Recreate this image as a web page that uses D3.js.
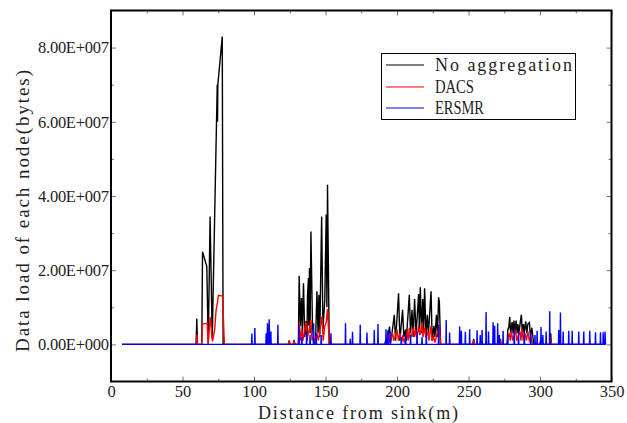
<!DOCTYPE html>
<html lang="en">
<head>
<meta charset="utf-8">
<script src="https://cdn.jsdelivr.net/npm/d3@7"></script>
<style>
  body { margin: 0; background: #fff; }
  svg { display: block; }
</style>
</head>
<body>
<script>
// distances in m, loads in units of 1E6 bytes
var noAggregation = [[7.7,0],[59.5,0],[60,7],[60.5,0],[63.5,0],[64,25],[67,21],[68,0],[69.3,34.5],[70.8,1.5],[74.3,70],[74.5,60],[74.7,70],[77.8,83],[78.4,0],
  [124,0],[124.6,1],[125.2,0],[127.5,0],[128,1.2],[128.6,0],
  [131,0],[131.6,18.5],[132.4,5],[133.2,12.5],[133.8,3],[134.6,16.5],[135.5,2],[136.3,6.2],[137,1],[137.4,12.9],[138.1,17.9],[138.3,5],[138.8,20.6],[139.2,3],[139.8,30.4],[140.9,4.8],[142,0],[143,0],[144,14.3],[144.8,3],[145.4,13.4],[146,2],[147.3,34.5],[148.2,4],[149.5,12],[150.5,35],[151,10],[151.4,43],[152.6,0],
  [191.5,0],[192,1],[192.6,0],[194.8,4.8],[195.5,0.5],[196.5,3],[198.1,8],[199,1],[201.1,13.8],[202,1],[203.9,9.3],[204.8,2],[206,4],[206.5,1],[208.6,13.4],[209.5,3],[210.5,9.3],[211.3,2],[212.3,12.2],[213.3,3],[214.2,8],[215.1,13.6],[215.6,4],[216.3,15.4],[217.2,3],[218,12.2],[218.6,3],[219.3,15.1],[220.3,2],[221.2,8],[222,3],[223.8,14.3],[224.6,1],[225.8,5],[226.5,2],[227.6,8],[228.3,2],[229.1,12.7],[229.6,11.5],[230.5,0],
  [253,0],[253.6,1.5],[254.2,0],[271.8,0],[272.3,1.5],[272.8,0],
  [277,0],[277.5,4],[278.2,4.5],[278.8,7.4],[279.5,3],[280.5,6],[281.2,3],[281.8,6.4],[282.5,3],[283.3,6.4],[284,3],[284.5,5.5],[285.3,3],[286.2,6],[287,8],[287.6,3],[288.4,5.5],[289,3],[290,6.2],[290.8,3],[291.5,5.5],[292.6,5.9],[293.3,2],[294.3,4.5],[295.6,0],
  [300,0],[300.5,1.5],[301.5,0],[307,0],[307.5,3],[308,0],[345.8,0]];

var dacs = [[7.7,0],[59.5,0],[60,2.6],[60.5,0],[63.5,0],[64,5.5],[67.2,5.7],[68,0],[69.3,7.4],[71,0.8],[72.5,4],[73.5,9.3],[74.4,11.1],[75.1,13.2],[78,13],[79.3,0],
  [124,0],[124.6,1],[125.2,0],[127.5,0],[128,1],[128.6,0],
  [131,0],[131.8,5.8],[132.5,1],[133.5,4],[134.2,1],[135,3],[136.3,6.2],[137,1],[138.5,4],[139.8,6.6],[140.6,1],[141.5,2],[142.5,0],[144,3],[145,1],[146.5,5],[147.5,7.5],[148.4,1],[149.5,5],[150.5,6],[151.4,9.5],[152.6,0],
  [192,0],[194.5,2],[195,0.5],[197,3],[197.6,1],[199,2.5],[200,4],[201,1],[202,3],[203.3,1],[204,2],[205,0.5],[207,3.5],[207.8,1],[208.6,4.5],[209.3,1.5],[210.5,3],[211.5,4.5],[212.3,2],[213,4],[214,1.5],[215,5],[216,2.5],[216.8,4],[217.5,6],[218.2,2],[219.5,4.5],[220.3,2],[221.5,3.5],[222.3,1],[223.8,5],[224.5,1],[225.5,2],[226.5,0.5],[228.5,3.5],[229.6,5.2],[230.5,0],
  [253,0],[253.6,1],[254.2,0],[271.8,0],[272.3,1],[272.8,0],
  [277,0],[277.5,2],[278.5,3],[279.2,1],[280,3.5],[281,1],[282,2.5],[283,4],[283.7,1],[285,2.5],[286,3.5],[286.7,1],[287.5,4.2],[288.3,1],[289.5,3],[290.5,1],[291.5,3.5],[292.5,1],[293.5,2],[295,0],
  [300,0],[300.5,1],[301.5,0],[307,0],[307.5,2],[308,0],[345.8,0]];

var ersmr = [[7.7,0],
  [98.3,0],[98.5,2.9],[98.7,0],[100.4,0],[100.6,4.4],[100.8,0],
  [108.3,0],[108.5,3.0],[108.8,0],[109.2,0],[109.4,5.7],[109.8,0],[110.4,0],[110.6,6.8],[111,0],[111.6,0],[111.8,3.5],[112,0],
  [116.5,0],[116.7,5.3],[116.9,0],
  [131.4,0],[131.6,4.8],[131.8,0],[133.3,0],[133.5,2],[133.7,0],[136.6,0],[136.8,3.5],[137,0],[139,0],[139.2,2.5],[139.4,0],
  [141.5,0],[141.7,5.7],[141.9,0],[143.3,0],[143.5,3],[143.7,0],[146.8,0],[147,2.5],[147.2,0],
  [153.6,0],[153.8,3],[154,0],[163.8,0],[164,5.7],[164.2,0],[167.1,0],[167.3,1.5],[167.5,0],[168.7,0],[168.9,3.4],[169.1,0],
  [174.1,0],[174.3,5.3],[174.5,0],[178.8,0],[179,3.2],[179.2,0],[183.9,0],[184.1,3.9],[184.3,0],[186.5,0],[186.7,5.5],[186.9,0],
  [192.1,0],[192.3,4.1],[192.6,0],[193.4,0],[193.6,3.8],[193.9,0],[195.1,0],[195.3,3.4],[195.5,0],
  [202.8,0],[203,2],[203.2,0],[205.8,0],[206,3],[206.2,0],[209.3,0],[209.5,2.5],[209.7,0],[213.8,0],[214,3.5],[214.2,0],
  [217.3,0],[217.5,2],[217.7,0],[220.3,0],[220.5,3],[220.7,0],[228.9,0],[229.1,5.3],[229.3,0],
  [234.2,0],[234.4,6.6],[234.6,0],[236.6,0],[236.8,3.2],[237,0],
  [243.6,0],[243.8,4.8],[244.1,0],[244.8,0],[245,3.7],[245.2,0],[247.6,0],[247.8,3.4],[248,0],[250.6,0],[250.8,4.1],[251,0],
  [255.8,0],[256,3.8],[256.2,0],[258,0],[258.2,2.5],[258.4,0],[259.3,0],[259.5,3.9],[259.7,0],
  [262.1,0],[262.3,8.7],[262.5,0],[263.8,0],[264,3.5],[264.2,0],
  [267,0],[267.2,6],[267.5,0],[268.1,0],[268.3,5],[268.5,0],[270.2,0],[270.4,5.7],[270.6,0],[271.3,0],[271.5,2.5],[271.7,0],
  [274,0],[274.2,3.7],[274.4,0],[277.3,0],[277.5,2.5],[277.7,0],[281.8,0],[282,4],[282.2,0],[284.8,0],[285,3.5],[285.2,0],
  [288.8,0],[289,3.5],[289.2,0],[293.3,0],[293.5,3.3],[293.7,0],[296.3,0],[296.5,2.5],[296.7,0],[297.8,0],[298,3.7],[298.2,0],
  [300.5,0],[300.7,4.7],[300.9,0],[301.8,0],[302,2.5],[302.2,0],[304.1,0],[304.3,3.5],[304.5,0],[306.6,0],[306.8,8.9],[307,0],
  [312.9,0],[313.1,3.9],[313.3,0],[314.1,0],[314.3,8.6],[314.5,0],[316,0],[316.2,3.5],[316.4,0],
  [319.9,0],[320.1,3.7],[320.3,0],[322.3,0],[322.5,3.7],[322.7,0],[326.9,0],[327.1,3.5],[327.3,0],
  [330.4,0],[330.6,3.5],[330.8,0],[334.6,0],[334.8,3.7],[335,0],[338.6,0],[338.8,3.3],[339,0],
  [342.1,0],[342.3,3.3],[342.5,0],[344,0],[344.2,3.3],[344.4,0],[345.3,0],[345.5,3.5],[345.8,0]];

var seriesNames = ["No aggregation", "DACS", "ERSMR"];
var seriesColors = ["#000000", "#ff0000", "#0000ff"];
var xTicks = [0, 50, 100, 150, 200, 250, 300, 350];
var xMinorTicks = [25, 75, 125, 175, 225, 275, 325];
var yTicks = [0, 20, 40, 60, 80];
var yMinorTicks = [10, 30, 50, 70];

var w = 627, h = 423;
var plot = { left: 111, right: 611.5, top: 10.5, bottom: 381.5 };
var serifFont = "'Liberation Serif', 'Times New Roman', Tinos";

var x = d3.scaleLinear().domain([0, 350]).range([plot.left, plot.right]);
var y = d3.scaleLinear().domain([-10, 90]).range([plot.bottom, plot.top]);

function sciFormat(d) {
  var v = d * 1e6;
  if (v === 0) return "0.00E+000";
  var e = Math.floor(Math.log10(v));
  return (v / Math.pow(10, e)).toFixed(2) + "E+" + String(e).padStart(3, "0");
}

var svg = d3.select("body").append("svg")
  .attr("width", w)
  .attr("height", h);

svg.append("rect").attr("width", w).attr("height", h).attr("fill", "#fff");

// axes, ticks pointing inward
var gx = svg.append("g").attr("transform", "translate(0," + plot.bottom + ")")
  .call(d3.axisBottom(x).tickValues(xTicks).tickSize(-5).tickPadding(4).tickFormat(d3.format("d")));
var gxm = svg.append("g").attr("transform", "translate(0," + plot.bottom + ")")
  .call(d3.axisBottom(x).tickValues(xMinorTicks).tickSize(-3).tickFormat(""));
var gxt = svg.append("g").attr("transform", "translate(0," + plot.top + ")")
  .call(d3.axisTop(x).tickValues(xTicks).tickSize(-5).tickFormat(""));
var gxtm = svg.append("g").attr("transform", "translate(0," + plot.top + ")")
  .call(d3.axisTop(x).tickValues(xMinorTicks).tickSize(-3).tickFormat(""));
var gy = svg.append("g").attr("transform", "translate(" + plot.left + ",0)")
  .call(d3.axisLeft(y).tickValues(yTicks).tickSize(-5).tickPadding(2).tickFormat(sciFormat));
var gym = svg.append("g").attr("transform", "translate(" + plot.left + ",0)")
  .call(d3.axisLeft(y).tickValues(yMinorTicks).tickSize(-3).tickFormat(""));
var gyr = svg.append("g").attr("transform", "translate(" + plot.right + ",0)")
  .call(d3.axisRight(y).tickValues(yTicks).tickSize(-5).tickFormat(""));
var gyrm = svg.append("g").attr("transform", "translate(" + plot.right + ",0)")
  .call(d3.axisRight(y).tickValues(yMinorTicks).tickSize(-3).tickFormat(""));

[gx, gxm, gxt, gxtm, gy, gym, gyr, gyrm].forEach(function(g) {
  g.attr("font-family", null).attr("font-size", null);
  g.select(".domain").remove();
  g.selectAll("line").attr("stroke", "#777").attr("stroke-width", 1);
  g.selectAll("text")
    .style("font-family", serifFont)
    .style("font-size", "16.5px")
    .attr("fill", "#222");
});
gy.selectAll("text").attr("textLength", 71).attr("lengthAdjust", "spacing");

// series lines
var line = d3.line().x(function(d) { return x(d[0]); }).y(function(d) { return y(d[1]); });
[noAggregation, dacs, ersmr].forEach(function(s, i) {
  svg.append("path")
    .datum(s)
    .attr("fill", "none")
    .attr("stroke", seriesColors[i])
    .attr("stroke-width", 1.4)
    .attr("d", line);
});

// frame
svg.append("rect")
  .attr("x", plot.left)
  .attr("y", plot.top)
  .attr("width", plot.right - plot.left)
  .attr("height", plot.bottom - plot.top)
  .attr("fill", "none")
  .attr("stroke", "#000")
  .attr("stroke-width", 2);

// axis titles (monospaced look in the original, so spacing is stretched)
svg.append("text")
  .attr("x", 358)
  .attr("y", 419)
  .attr("text-anchor", "middle")
  .attr("textLength", 200)
  .attr("lengthAdjust", "spacing")
  .style("font-family", serifFont)
  .style("font-size", "18px")
  .attr("fill", "#222")
  .text("Distance from sink(m)");

svg.append("text")
  .attr("transform", "translate(29,211) rotate(-90)")
  .attr("text-anchor", "middle")
  .attr("textLength", 282)
  .attr("lengthAdjust", "spacing")
  .style("font-family", serifFont)
  .style("font-size", "19px")
  .attr("fill", "#222")
  .text("Data load of each node(bytes)");

// legend
var legend = svg.append("g");
legend.append("rect")
  .attr("x", 381.5).attr("y", 53.5)
  .attr("width", 194).attr("height", 66)
  .attr("fill", "#fff").attr("stroke", "#000").attr("stroke-width", 1);
var legendY = [65, 87, 108];
var legendLen = [137, 39, 49];
var legendAdjust = ["spacing", "spacingAndGlyphs", "spacingAndGlyphs"];
seriesNames.forEach(function(name, i) {
  legend.append("line")
    .attr("x1", 386).attr("x2", 424)
    .attr("y1", legendY[i]).attr("y2", legendY[i])
    .attr("stroke", seriesColors[i]).attr("stroke-width", 1);
  legend.append("text")
    .attr("x", 435).attr("y", legendY[i] + 6)
    .attr("textLength", legendLen[i])
    .attr("lengthAdjust", legendAdjust[i])
    .style("font-family", serifFont)
    .style("font-size", "18px")
    .attr("fill", "#222")
    .text(name);
});
</script>
</body>
</html>
